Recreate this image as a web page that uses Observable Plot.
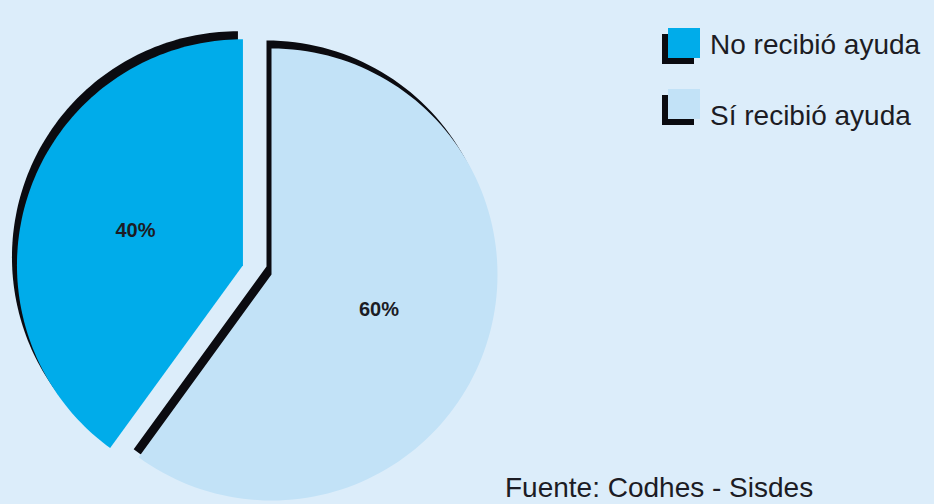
<!DOCTYPE html>
<html>
<head>
<meta charset="utf-8">
<script src="https://cdn.jsdelivr.net/npm/d3@7"></script>
<script src="https://cdn.jsdelivr.net/npm/@observablehq/plot@0.6"></script>
<style>
  html, body { margin: 0; padding: 0; background: #dcedfa; }
  #fig { position: relative; width: 934px; height: 504px; background: #dcedfa; overflow: hidden;
         font-family: "Liberation Sans", Arial, Helvetica, sans-serif; color: #1c1c24; }
  #fig svg { position: absolute; left: 0; top: 0; }
  .sw { position: absolute; width: 32px; height: 30px; box-shadow: -6px 6px 0 0 #0b0b10; }
  .lt { position: absolute; font-size: 28px; line-height: 30px; white-space: nowrap; }
  .cap { position: absolute; font-size: 28px; line-height: 30px; white-space: nowrap; }
</style>
</head>
<body>
<div id="fig"></div>
<script>
// ---- data ----
const categories = ["No recibió ayuda", "Sí recibió ayuda"];
const values = [40, 60];
const labels = ["40%", "60%"];
const colors = ["#00acea", "#c2e2f7"];
const pieOrder = ["Sí recibió ayuda", "No recibió ayuda"]; // clockwise from 12 o'clock
const explodedCategories = ["No recibió ayuda"];
const captionText = "Fuente: Codhes - Sisdes";

// ---- layout constants ----
const W = 934, H = 504;
const CX = 271, CY = 274, RPX = 226;   // pie centre / radius in pixels
const EXPLODE = 30 / RPX;              // explode distance in radius units
const LABEL_R = 0.5;
const STEPS = 120;

const data = categories.map((c, i) => ({key: c, value: values[i], label: labels[i]}));
const arcs = d3.pie()
  .value(d => d.value)
  .sort((a, b) => pieOrder.indexOf(a.key) - pieOrder.indexOf(b.key))(data);

const pts = [];
const slices = arcs.map(a => {
  const mid = (a.startAngle + a.endAngle) / 2;
  const off = explodedCategories.includes(a.data.key) ? EXPLODE : 0;
  const cx = off * Math.sin(mid), cy = off * Math.cos(mid);
  pts.push({key: a.data.key, x: cx, y: cy});
  for (let i = 0; i <= STEPS; i++) {
    const t = a.startAngle + (a.endAngle - a.startAngle) * i / STEPS;
    pts.push({key: a.data.key, x: cx + Math.sin(t), y: cy + Math.cos(t)});
  }
  return {
    key: a.data.key, label: a.data.label,
    lx: cx + LABEL_R * Math.sin(mid), ly: cy + LABEL_R * Math.cos(mid)
  };
});

const plot = Plot.plot({
  width: W, height: H, margin: 0,
  x: {domain: [-CX / RPX, (W - CX) / RPX], axis: null},
  y: {domain: [-(H - CY) / RPX, CY / RPX], axis: null},
  color: {domain: categories, range: colors},
  style: {background: "transparent", fontFamily: "'Liberation Sans', Arial, sans-serif"},
  marks: [
    Plot.line(pts, {x: "x", y: "y", z: "key", fill: "#0b0b10", stroke: "none", curve: "linear-closed", dx: -5, dy: -8}),
    Plot.line(pts, {x: "x", y: "y", z: "key", fill: "key", stroke: "none", curve: "linear-closed"}),
    Plot.text(slices, {x: "lx", y: "ly", text: "label", fontSize: 20, fontWeight: "bold", fill: "#1c1c24"})
  ]
});

const fig = document.getElementById("fig");
fig.appendChild(plot);

// legend
const SW_LEFT = 668, TXT_LEFT = 710;
const swTops = [28, 89], txtTops = [30, 101];
categories.forEach((c, i) => {
  const sw = document.createElement("div");
  sw.className = "sw";
  sw.style.left = SW_LEFT + "px";
  sw.style.top = swTops[i] + "px";
  sw.style.background = colors[i];
  fig.appendChild(sw);
  const t = document.createElement("div");
  t.className = "lt";
  t.style.left = TXT_LEFT + "px";
  t.style.top = txtTops[i] + "px";
  t.textContent = c;
  fig.appendChild(t);
});

// caption
const cap = document.createElement("div");
cap.className = "cap";
cap.style.left = "505px";
cap.style.top = "473px";
cap.textContent = captionText;
fig.appendChild(cap);
</script>
</body>
</html>
